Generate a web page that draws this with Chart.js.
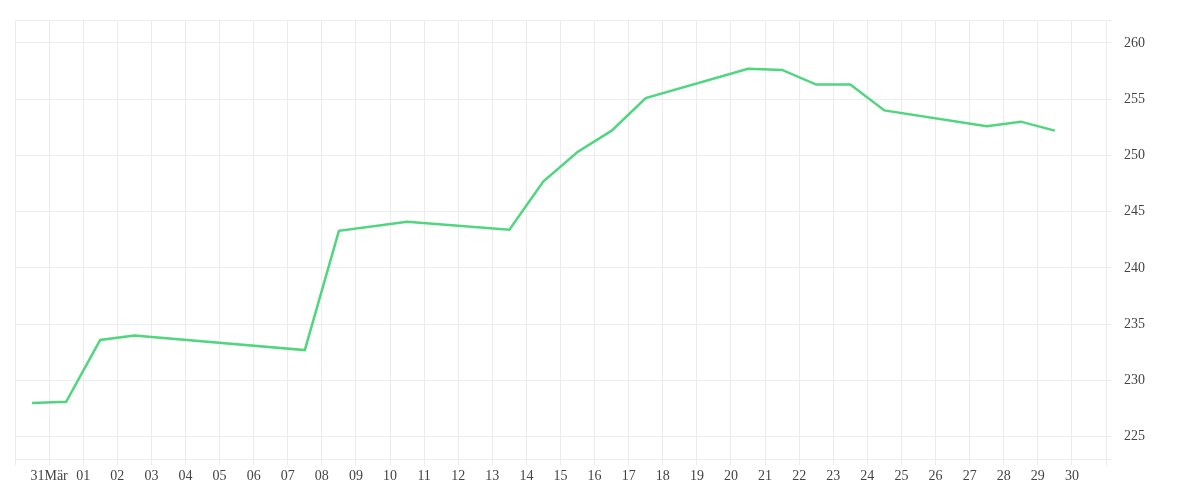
<!DOCTYPE html>
<html><head><meta charset="utf-8">
<script src="https://cdn.jsdelivr.net/npm/chart.js@4"></script>
<style>html,body{margin:0;padding:0;background:#fff}#w{width:1200px;height:500px}</style>
</head><body><div id="w"><canvas id="c"></canvas></div>
<script>
const dayPos = [-0.5,0.5,1.5,2.5,7.5,8.5,10.5,13.5,14.5,15.5,16.5,17.5,20.5,21.5,22.5,23.5,24.5,27.5,28.5,29.5];
const prices = [228.0,228.1,233.6,234.0,232.7,243.3,244.1,243.4,247.7,250.3,252.2,255.1,257.7,257.6,256.3,256.3,254.0,252.6,253.0,252.2];
const firstLabel = '31Mär';
const yMin = 223, yMax = 262;

const grid = {color:'#ececec', lineWidth:1};
new Chart(document.getElementById('c'), {
  type:'line',
  data:{datasets:[{data:dayPos.map((d,i)=>({x:d,y:prices[i]})),borderColor:'#4fd67f',borderWidth:2.5,pointRadius:0,tension:0,fill:false}]},
  options:{
    responsive:true,maintainAspectRatio:false,animation:false,
    layout:{padding:{left:15,right:43,top:4,bottom:12}},
    plugins:{legend:{display:false},tooltip:{enabled:false}},
    scales:{
      x:{type:'linear',min:-1,max:31,grid:{...grid,tickLength:6},border:{color:'#ececec'},
        ticks:{stepSize:1,autoSkip:false,maxRotation:0,color:'#444',font:{family:'Liberation Serif',size:14},
          callback:v=>v<0||v>30?'':(v===0?firstLabel:String(v).padStart(2,'0'))}},
      y:{position:'right',min:yMin,max:yMax,grid:{...grid,tickLength:6},border:{color:'#ececec'},
        ticks:{stepSize:5,color:'#444',padding:12,font:{family:'Liberation Serif',size:14},
          callback:v=>v%5===0?v:''}}
    }
  }
});
</script></body></html>
